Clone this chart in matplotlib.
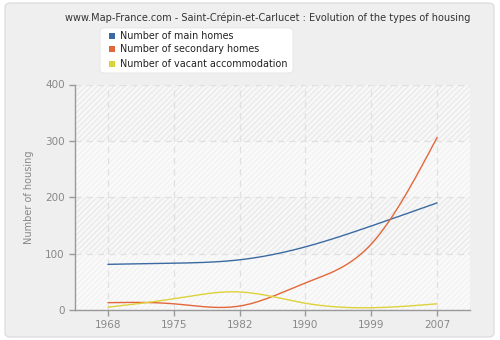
import numpy as np
import matplotlib
matplotlib.use("Agg")
import matplotlib.pyplot as plt
from matplotlib.patches import FancyBboxPatch, Rectangle

years = ["1968", "1975", "1982", "1990", "1999", "2007"]
main_homes = [81, 83, 89, 112, 149, 190]
secondary_homes = [13, 11, 7, 48, 117, 306]
vacant = [5, 20, 32, 12, 4, 11]
series_names = ["Number of main homes", "Number of secondary homes",
                "Number of vacant accommodation"]
colors = ["#3b6aa2", "#e2673a", "#ddd23a"]
yticks = [0, 100, 200, 300, 400]


def natural_spline(x, y, n=400):
    x = np.asarray(x, float); y = np.asarray(y, float)
    k = len(x)
    h = np.diff(x)
    A = np.zeros((k, k)); b = np.zeros(k)
    A[0, 0] = 1; A[-1, -1] = 1
    for i in range(1, k - 1):
        A[i, i - 1] = h[i - 1]
        A[i, i] = 2 * (h[i - 1] + h[i])
        A[i, i + 1] = h[i]
        b[i] = 6 * ((y[i + 1] - y[i]) / h[i] - (y[i] - y[i - 1]) / h[i - 1])
    M = np.linalg.solve(A, b)
    xs = np.linspace(x[0], x[-1], n)
    idx = np.clip(np.searchsorted(x, xs) - 1, 0, k - 2)
    x0 = x[idx]; x1 = x[idx + 1]; hh = x1 - x0
    a = (x1 - xs) / hh; bb = (xs - x0) / hh
    ys = a * y[idx] + bb * y[idx + 1] + ((a**3 - a) * M[idx] + (bb**3 - bb) * M[idx + 1]) * hh**2 / 6
    return xs, ys


fig = plt.figure(figsize=(5, 3.4), dpi=100)
fig.patch.set_facecolor("white")
panel = FancyBboxPatch((5 / 500, 3 / 340), 489 / 500, 334 / 340,
                       boxstyle="round,pad=0,rounding_size=0.012",
                       transform=fig.transFigure, facecolor="#efefef",
                       edgecolor="#dedede", linewidth=1.0, zorder=-5)
fig.patches.append(panel)

ax = fig.add_axes([75 / 500, 30 / 340, 395 / 500, 225.5 / 340])
ax.set_zorder(1)
ax.set_facecolor("#fbfbfb")
x = np.arange(len(years))
ax.set_xlim(-0.5, len(years) - 0.5)
ax.set_ylim(0, 400)

for lo, hi in [(100, 200), (300, 400), (0, 100), (200, 300)]:
    hatched = lo in (100, 300)
    r = Rectangle((-0.5, lo), len(years), hi - lo,
                  facecolor="#f8f8f8" if hatched else "#fafafa",
                  edgecolor="#eaeaea" if hatched else "#f2f2f2",
                  hatch="//////", linewidth=0, zorder=0)
    ax.add_patch(r)

ax.set_axisbelow(True)
ax.grid(True, color="#e0e0e0", linestyle=(0, (5, 4)), linewidth=0.9, zorder=1)

for vals, c in zip([main_homes, secondary_homes, vacant], colors):
    xs, ys = natural_spline(x, vals)
    ax.plot(xs, ys, color=c, linewidth=1.0, zorder=3, solid_capstyle="round")

ax.set_xticks(x)
ax.set_xticklabels(years)
ax.set_yticks(yticks)
for s in ["top", "right"]:
    ax.spines[s].set_visible(False)
for s in ["left", "bottom"]:
    ax.spines[s].set_color("#999999")
    ax.spines[s].set_linewidth(1.0)
ax.tick_params(axis="both", colors="#999999", labelcolor="#888888", labelsize=7.5,
               length=4, width=1.0, direction="out")
ax.set_ylabel("Number of housing", fontsize=7.0, color="#888888", labelpad=8)

fig.text(268 / 500, 1 - 18 / 340,
         "www.Map-France.com - Saint-Crépin-et-Carlucet : Evolution of the types of housing",
         ha="center", va="center", fontsize=7.0, color="#333333")

lg = FancyBboxPatch((100 / 500, 1 - 73 / 340), 193 / 500, 45 / 340,
                    boxstyle="round,pad=0,rounding_size=0.01",
                    transform=fig.transFigure, facecolor="white",
                    edgecolor="#e4e4e4", linewidth=0.6, zorder=5)
fig.patches.append(lg)
for i, (name, c) in enumerate(zip(series_names, colors)):
    yy = [36, 49, 64][i]
    fig.patches.append(Rectangle((109 / 500, 1 - (yy + 3) / 340), 6 / 500, 6 / 340,
                                 transform=fig.transFigure, facecolor=c,
                                 edgecolor="none", zorder=6))
    fig.text(120 / 500, 1 - yy / 340, name, ha="left", va="center",
             fontsize=6.9, color="#222222", zorder=7)

fig.savefig("out.png", dpi=100, facecolor=fig.get_facecolor())
